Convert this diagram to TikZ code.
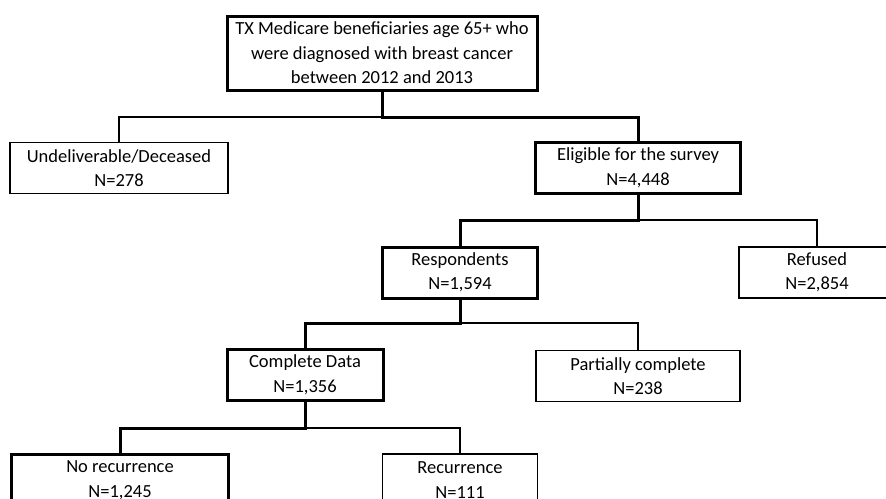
\documentclass[tikz,border=0pt]{standalone}
\usepackage{fontspec}
\setmainfont{Carlito}
\usepackage{tikz}
\usetikzlibrary{positioning}

\begin{document}
\begin{tikzpicture}[
    x=1pt, y=-1pt,
    box/.style={rectangle, draw, inner sep=0pt, align=center, font=\fontsize{18.5}{24.5}\selectfont, minimum height=51pt},
    main/.style={box, line width=3pt},
    side/.style={box, line width=1.3pt},
    heavy/.style={line width=3pt},
    light/.style={line width=1.3pt}
]
\useasboundingbox (0,0) rectangle (886,498);

\node[main, minimum width=310pt, minimum height=74pt] (pop) at (382,53) {TX Medicare beneficiaries age 65+ who\\ were diagnosed with breast cancer\\ between 2012 and 2013};
\node[side, minimum width=218pt] (undel) at (119,168) {Undeliverable/Deceased\\ N=278};
\node[main, minimum width=205pt] (elig) at (638,168) {Eligible for the survey\\ N=4,448};

\node[main, minimum width=155pt] (resp) at (460,272.5) {Respondents\\ N=1,594};
\node[side, minimum width=156pt] (refused) at (817,272.5) {Refused\\ N=2,854};

\node[main, minimum width=156pt] (compl) at (305,375) {Complete Data\\ N=1,356};
\node[side, minimum width=204pt] (part) at (638,376) {Partially complete\\ N=238};

\node[main, minimum width=217pt, minimum height=52pt] (norec) at (120,480) {No recurrence\\ N=1,245};
\node[side, minimum width=155pt, minimum height=52pt] (rec) at (460,480) {Recurrence\\ N=111};

% branch points
\coordinate (j1) at (pop.south |- 0,117);
\coordinate (j2) at (elig.south |- 0,220);
\coordinate (j3) at (resp.south |- 0,323);
\coordinate (j4) at (compl.south |- 0,428);

\draw[light] (j1) -| (undel.north);
\draw[heavy] (pop.south) -- (j1) -| (elig.north);
\draw[light] (j2) -| (refused.north);
\draw[heavy] (elig.south) -- (j2) -| (resp.north);
\draw[light] (j3) -| (part.north);
\draw[heavy] (resp.south) -- (j3) -| (compl.north);
\draw[light] (j4) -| (rec.north);
\draw[heavy] (compl.south) -- (j4) -| (norec.north);
\end{tikzpicture}
\end{document}
